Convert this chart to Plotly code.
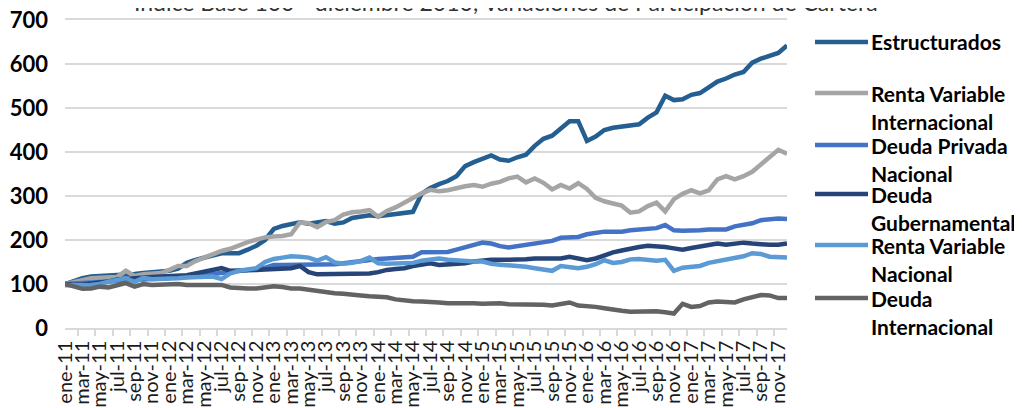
import plotly.graph_objects as go

# ---- data ----
month_names = ["ene", "feb", "mar", "abr", "may", "jun", "jul", "ago", "sep", "oct", "nov", "dic"]
years = ["11", "12", "13", "14", "15", "16", "17"]
months = [f"{m}-{y}" for y in years for m in month_names]

estructurados = [100, 107, 113, 117, 118, 118, 120, 121, 123, 125, 127, 128,
                 130, 135, 148, 155, 160, 165, 170, 170, 170, 178, 187, 200,
                 225, 232, 236, 240, 237, 240, 243, 237, 240, 250, 253, 256,
                 254, 257, 260, 262, 264, 305, 318, 327, 334, 345, 368, 377,
                 385, 392, 383, 380, 388, 394, 414, 430, 437, 452, 470, 470,
                 425, 435, 450, 455, 458, 461, 463, 478, 490, 528, 518, 520,
                 530, 534, 546, 560, 567, 576, 582, 603, 612, 618, 625, 642]

renta_var_int = [100, 105, 110, 113, 114, 115, 116, 130, 118, 122, 124, 125,
                 132, 141, 141, 152, 160, 168, 175, 180, 188, 195, 201, 206,
                 208, 209, 213, 240, 238, 229, 241, 245, 258, 263, 265, 268,
                 253, 266, 274, 285, 295, 306, 314, 311, 313, 318, 322, 325,
                 321, 328, 332, 340, 344, 331, 340, 330, 315, 325, 317, 329,
                 316, 296, 288, 283, 278, 262, 265, 277, 285, 265, 293, 305,
                 313, 306, 313, 338, 345, 338, 345, 355, 372, 390, 405, 396]

deuda_priv_nac = [100, 101, 102, 103, 104, 106, 107, 108, 109, 110, 111, 112,
                  113, 114, 116, 118, 120, 122, 124, 126, 128, 131, 134, 137,
                  143, 143, 143, 144, 143, 143, 144, 145, 147, 150, 153, 155,
                  157, 158, 160, 161, 162, 172, 173, 173, 173, 178, 184, 190,
                  194, 192, 186, 183, 186, 190, 192, 196, 198, 205, 207, 207,
                  213, 216, 219, 219, 219, 222, 224, 226, 227, 234, 222, 221,
                  221, 222, 224, 224, 224, 231, 234, 238, 245, 248, 249, 248]

deuda_gub = [100, 98, 99, 101, 103, 106, 110, 112, 113, 114, 116, 117,
             118, 118, 120, 124, 128, 132, 136, 130, 130, 132, 132, 133,
             134, 134, 136, 141, 127, 122, 122, 122, 123, 124, 124, 124,
             127, 132, 134, 136, 141, 144, 147, 143, 144, 145, 147, 151,
             154, 155, 155, 155, 155, 156, 158, 158, 156, 158, 162, 158,
             154, 158, 166, 172, 176, 181, 184, 187, 186, 184, 181, 178,
             182, 185, 189, 192, 189, 191, 194, 192, 190, 189, 189, 192]

renta_var_nac = [97, 96, 97, 98, 100, 105, 108, 113, 105, 114, 111, 111,
                 112, 113, 115, 116, 118, 117, 111, 124, 130, 134, 136, 150,
                 157, 160, 163, 162, 160, 153, 161, 149, 146, 148, 152, 160,
                 147, 146, 146, 147, 148, 153, 156, 158, 155, 153, 152, 151,
                 151, 146, 144, 143, 141, 139, 136, 132, 130, 141, 138, 136,
                 139, 145, 154, 148, 150, 156, 157, 155, 153, 155, 130, 137,
                 139, 141, 148, 152, 156, 160, 163, 170, 168, 162, 160, 160]

deuda_int = [100, 95, 89, 90, 94, 92, 97, 102, 94, 100, 98, 99,
             101, 100, 98, 98, 98, 98, 98, 92, 90, 90, 90, 93,
             95, 93, 90, 90, 87, 83, 81, 79, 78, 77, 74, 72,
             70, 70, 65, 62, 61, 60, 60, 58, 56, 56, 58, 56,
             55, 56, 56, 54, 54, 54, 54, 53, 51, 54, 58, 51,
             50, 48, 45, 41, 39, 37, 38, 38, 38, 36, 33, 55,
             48, 50, 58, 60, 60, 58, 65, 70, 75, 74, 68, 68]

series_names = ["Estructurados", "Renta Variable Internacional", "Deuda Privada Nacional",
                "Deuda Gubernamental", "Renta Variable Nacional", "Deuda Internacional"]
series_values = [estructurados, renta_var_int, deuda_priv_nac, deuda_gub, renta_var_nac, deuda_int]
series_colors = ["#255E91", "#A5A5A5", "#4472C4", "#264478", "#5B9BD5", "#636363"]
legend_lines = [["Estructurados"], ["Renta Variable", "Internacional"], ["Deuda Privada", "Nacional"],
                ["Deuda", "Gubernamental"], ["Renta Variable", "Nacional"], ["Deuda", "Internacional"]]
y_ticks = [0, 100, 200, 300, 400, 500, 600, 700]

title_text = "Índice Base 100 - diciembre 2010, Variaciones de Participación de Cartera"

# ---- layout geometry (page pixels; the page body has an 8px margin) ----
OFF = 8
W, H = 1022 - OFF, 408 - OFF
L, R, T, B = 65, 787, 20, 328          # plot area in page pixels
pw, ph = R - L, B - T


def px_x(px):
    return (px - L) / pw


def px_y(py):
    return (B - py) / ph


FONT = "Lato"
GRID = "#d9d9d9"

fig = go.Figure()
for name, vals, col in zip(series_names, series_values, series_colors):
    fig.add_trace(go.Scatter(x=months, y=vals, name=name, mode="lines",
                             line=dict(color=col, width=4.5), showlegend=False,
                             cliponaxis=False))

annotations = []
shapes = []

# manual legend (Excel-like wrapped entries)
legend_sym_y = [42, 93, 145, 194, 245, 298]
line_gap = 28
for i, (lines, col) in enumerate(zip(legend_lines, series_colors)):
    y0 = legend_sym_y[i]
    shapes.append(dict(type="line", xref="paper", yref="paper",
                       x0=px_x(815), x1=px_x(868), y0=px_y(y0), y1=px_y(y0),
                       line=dict(color=col, width=4.5)))
    for j, ln in enumerate(lines):
        annotations.append(dict(text=ln, xref="paper", yref="paper",
                                x=px_x(869), y=px_y(y0 + j * line_gap),
                                xanchor="left", yanchor="middle", showarrow=False,
                                font=dict(family=FONT, size=21, color="#000000", weight="bold")))

# title: partially cut off at the top, as in the reference
annotations.append(dict(text=title_text, xref="paper", yref="paper",
                        x=px_x(506), y=px_y(17), xanchor="center", yanchor="bottom",
                        showarrow=False, bgcolor="rgba(0,0,0,0)", borderpad=0,
                        font=dict(family=FONT, size=23, color="#333333")))

fig.update_layout(
    template="none",
    width=W, height=H,
    margin=dict(l=L - OFF, r=W - (R - OFF), t=T - OFF, b=H - (B - OFF), autoexpand=False),
    paper_bgcolor="white", plot_bgcolor="rgba(0,0,0,0)",
    showlegend=False,
    annotations=annotations,
    shapes=shapes,
    font=dict(family=FONT),
)

# x axis: bottom line plus a mirrored line at the top edge (= the 700 gridline)
fig.update_xaxes(
    type="category", automargin=False,
    tickmode="linear", tick0=0, dtick=2, tickson="boundaries",
    ticks="outside", ticklen=6, tickcolor=GRID, tickwidth=1.5,
    showline=True, linecolor=GRID, linewidth=1.5, mirror=True,
    showgrid=False, zeroline=False,
    tickangle=-90, ticklabelstandoff=3, ticklabeloverflow="allow",
    tickfont=dict(family=FONT, size=20, color="#1a1a1a"),
)
fig.update_yaxes(
    range=[0, 700], automargin=False, tickmode="array", tickvals=y_ticks,
    showgrid=True, gridcolor=GRID, gridwidth=1.5,
    zeroline=False, showline=False, ticks="",
    ticklabelstandoff=16, ticklabeloverflow="allow",
    tickfont=dict(family=FONT, size=22, color="#000000", weight="bold"),
)

fig.write_html("out.html")
